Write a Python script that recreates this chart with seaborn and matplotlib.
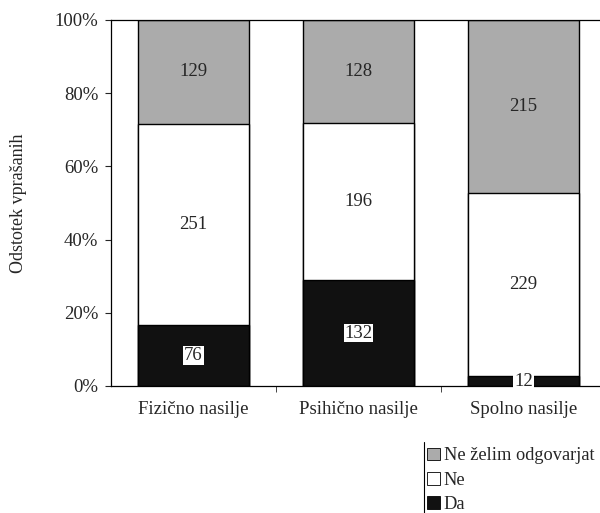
import pandas as pd
import seaborn as sns
import matplotlib.pyplot as plt
from matplotlib.patches import Patch
from matplotlib.lines import Line2D


categories = ['Fizično nasilje', 'Psihično nasilje', 'Spolno nasilje']
da = [76, 132, 12]
ne = [251, 196, 229]
ne_zelim = [129, 128, 215]
yticks = [0, 20, 40, 60, 80, 100]

sns.set_style('ticks')
plt.rcParams['font.family'] = ['Liberation Serif', 'DejaVu Serif']
fs = 13.5

df = pd.DataFrame({'kategorija': categories, 'Da': da, 'Ne': ne, 'Ne želim odgovarjat': ne_zelim})
df['total'] = df['Da'] + df['Ne'] + df['Ne želim odgovarjat']
df['p_da'] = df['Da'] / df['total'] * 100
df['p_ne'] = df['Ne'] / df['total'] * 100
df['p_nz'] = df['Ne želim odgovarjat'] / df['total'] * 100
df['cum_ne'] = df['p_da'] + df['p_ne']
df['cum_all'] = df['cum_ne'] + df['p_nz']

fig = plt.figure(figsize=(6, 5.13), dpi=100)
ax = fig.add_axes([0.185, 0.2476, 0.825, 0.7135])

gray = '#ababab'
dark = '#111111'
w = 0.667
sns.barplot(data=df, x='kategorija', y='cum_all', color=gray, width=w,
            edgecolor='black', linewidth=1, saturation=1, ax=ax)
sns.barplot(data=df, x='kategorija', y='cum_ne', color='white', width=w,
            edgecolor='black', linewidth=1, saturation=1, ax=ax)
sns.barplot(data=df, x='kategorija', y='p_da', color=dark, width=w,
            edgecolor='black', linewidth=1, saturation=1, ax=ax)

# labels in the middle of each segment
for i, row in df.iterrows():
    ax.text(i, row['cum_ne'] + row['p_nz'] / 2, str(row['Ne želim odgovarjat']),
            ha='center', va='center', fontsize=fs)
    ax.text(i, row['p_da'] + row['p_ne'] / 2, str(row['Ne']),
            ha='center', va='center', fontsize=fs)
    ax.text(i, row['p_da'] / 2, str(row['Da']), ha='center', va='center', fontsize=fs,
            bbox=dict(facecolor='white', edgecolor='none', pad=0.5))

ax.set_xlim(-0.5, 2.5)
ax.set_ylim(0, 100)
ax.set_yticks(yticks)
ax.set_yticklabels([f'{t}%' for t in yticks], fontsize=fs)
ax.set_xlabel('')
ax.set_ylabel('Odstotek vprašanih', fontsize=13, labelpad=20)
ax.tick_params(axis='x', which='major', length=0, pad=11, labelsize=fs)
ax.set_xticks([0.5, 1.5], minor=True)
ax.tick_params(axis='x', which='minor', length=4, direction='out')
ax.tick_params(axis='y', length=4, direction='out', pad=5)
for s in ['left', 'bottom', 'top']:
    ax.spines[s].set_linewidth(0.9)
    ax.spines[s].set_color('black')
ax.spines['right'].set_visible(False)

handles = [Patch(facecolor=gray, edgecolor='black', linewidth=0.6),
           Patch(facecolor='white', edgecolor='black', linewidth=0.6),
           Patch(facecolor=dark, edgecolor='black', linewidth=0.6)]
fig.legend(handles, ['Ne želim odgovarjat', 'Ne', 'Da'], loc='upper left',
           bbox_to_anchor=(0.712, 0.128), frameon=False, fontsize=13.2,
           handlelength=0.7, handleheight=0.7, handletextpad=0.2,
           labelspacing=0.4, borderpad=0, borderaxespad=0)
fig.add_artist(Line2D([0.706, 0.706], [0.0, 0.138], transform=fig.transFigure,
                      color='black', linewidth=0.8))

fig.savefig('out.png', dpi=100)
